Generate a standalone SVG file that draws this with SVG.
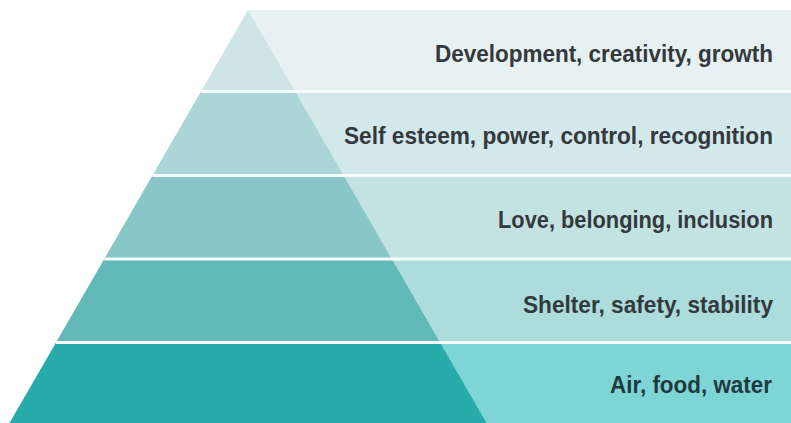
<svg xmlns="http://www.w3.org/2000/svg" width="791" height="423" viewBox="0 0 791 423">
  <style>
    .lbl { font-family: "Liberation Sans", Arial, sans-serif; font-weight: bold; font-size: 23px; fill: #33393c; }
    .sep { stroke: #f3fbfb; stroke-width: 3; }
  </style>
  <rect width="791" height="423" fill="#ffffff"/>
  <!-- Level 5: top -->
  <g id="level-growth">
    <rect x="248" y="10" width="543" height="81.5" fill="#e7f1f1"/>
    <polygon points="248,10 295.07,91.5 200.93,91.5" fill="#cfe4e4"/>
    <text class="lbl" x="435" y="62" textLength="338" lengthAdjust="spacingAndGlyphs">Development, creativity, growth</text>
  </g>
  <!-- Level 4 -->
  <g id="level-esteem">
    <rect x="248" y="91.5" width="543" height="84" fill="#d3e8ea"/>
    <polygon points="200.93,91.5 295.07,91.5 343.58,175.5 152.42,175.5" fill="#abd5d6"/>
    <text class="lbl" x="344" y="144" textLength="429" lengthAdjust="spacingAndGlyphs">Self esteem, power, control, recognition</text>
  </g>
  <!-- Level 3 -->
  <g id="level-love">
    <rect x="248" y="175.5" width="543" height="83.5" fill="#c3e3e3"/>
    <polygon points="152.42,175.5 343.58,175.5 391.8,259 104.2,259" fill="#89c6c7"/>
    <text class="lbl" x="498" y="228" textLength="275" lengthAdjust="spacingAndGlyphs">Love, belonging, inclusion</text>
  </g>
  <!-- Level 2 -->
  <g id="level-safety">
    <rect x="248" y="259" width="543" height="83.5" fill="#acdcdc"/>
    <polygon points="104.2,259 391.8,259 440,342.5 56,342.5" fill="#63b8b8"/>
    <text class="lbl" x="523" y="313" textLength="250" lengthAdjust="spacingAndGlyphs">Shelter, safety, stability</text>
  </g>
  <!-- Level 1: base -->
  <g id="level-physiological">
    <rect x="248" y="342.5" width="543" height="80.5" fill="#7fd5d5"/>
    <polygon points="56,342.5 440,342.5 486.5,423 9.5,423" fill="#27abab"/>
    <text class="lbl" x="610" y="393" textLength="162" lengthAdjust="spacingAndGlyphs" style="fill:#1f3a3d">Air, food, water</text>
  </g>
  <!-- white dividers between levels -->
  <g id="connectors">
    <line class="sep" x1="200.93" y1="91.5" x2="791" y2="91.5"/>
    <line class="sep" x1="152.42" y1="175.5" x2="791" y2="175.5"/>
    <line class="sep" x1="104.2" y1="259" x2="791" y2="259"/>
    <line class="sep" x1="56" y1="342.5" x2="791" y2="342.5"/>
  </g>
</svg>
